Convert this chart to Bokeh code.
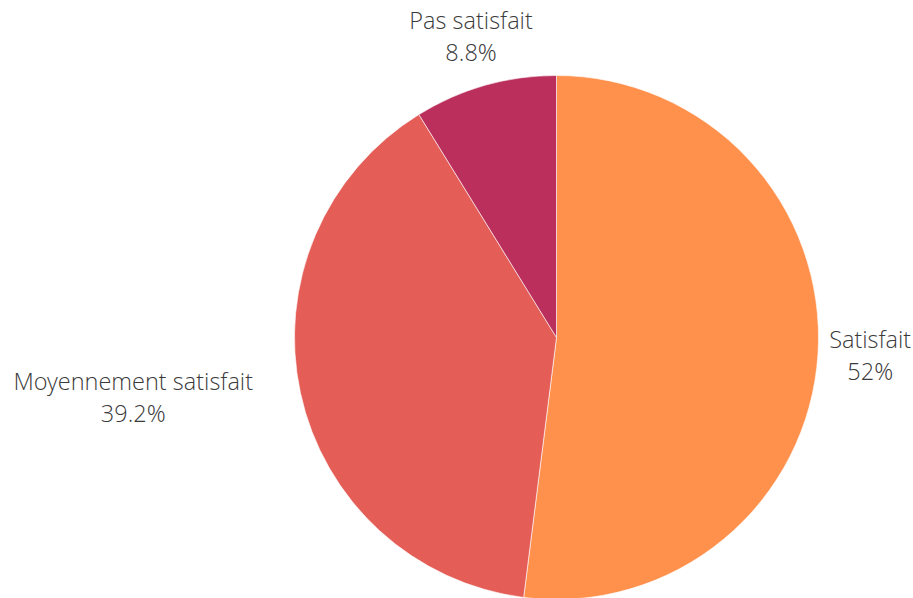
import numpy as np
from bokeh.plotting import figure
from bokeh.models import Range1d
from bokeh.core.properties import value
from bokeh.embed import file_html
from bokeh.resources import INLINE

# ---- data ----
categories = ["Satisfait", "Moyennement satisfait", "Pas satisfait"]
percentages = [52.0, 39.2, 8.8]
pct_labels = ["52%", "39.2%", "8.8%"]
colors = ["#FF914D", "#E45D57", "#BB2F5C"]

# ---- layout (figure pixel coordinates, origin top-left) ----
W, H = 913, 598
CX, CY_TOP, R = 556, 337, 262
FONT_PX = 23.5
LINE_GAP = 32
FONT = "Open Sans Light"

# rough Open Sans Light glyph widths (em) for label width estimation
_cw = {"M": .85, "o": .56, "y": .47, "e": .53, "n": .57, "m": .87, "t": .33, " ": .26,
       "s": .44, "a": .52, "i": .23, "f": .31, "S": .52, "P": .56, "%": .78, ".": .25}


def text_w(s):
    return sum(_cw.get(ch, .55) for ch in s) * FONT_PX


p = figure(width=W, height=H, output_backend="svg", toolbar_location=None,
           x_range=Range1d(0, W), y_range=Range1d(0, H), min_border=0,
           background_fill_color="white", border_fill_color="white")
p.axis.visible = False
p.grid.visible = False
p.outline_line_color = None

frac = np.array(percentages) / sum(percentages)
ends = np.cumsum(frac)
starts = ends - frac
start_angle = np.pi / 2 - starts * 2 * np.pi
end_angle = np.pi / 2 - ends * 2 * np.pi

p.wedge(x=CX, y=H - CY_TOP, radius=R, start_angle=list(start_angle), end_angle=list(end_angle),
        direction="clock", fill_color=colors, line_color="white", line_width=1, line_alpha=0.6)

# ---- labels ----
name_x, name_y, pct_x, pct_y = [], [], [], []
for cat, pl, s0, f in zip(categories, pct_labels, starts, frac):
    th = (s0 + f / 2) * 2 * np.pi
    sn, cs = np.sin(th), np.cos(th)
    ax = CX + (R + 51) * sn
    ay = CY_TOP - (R + 20) * cs
    w = max(text_w(cat), text_w(pl))
    if sn > 0.5:
        bx = ax + w / 2
    elif sn < -0.5:
        bx = ax - w / 2
    else:
        bx = ax
    bx = min(max(bx, w / 2 + 2), W - 3 - w / 2)
    if cs > 0.5:
        by = ay - 30
    elif cs < -0.5:
        by = ay + 30
    else:
        by = ay
    name_x.append(bx); name_y.append(H - (by - LINE_GAP / 2))
    pct_x.append(bx); pct_y.append(H - (by + LINE_GAP / 2))

common = dict(text_font=value(FONT), text_font_size=f"{FONT_PX}px", text_color="#3a3a3a",
              text_align="center", text_baseline="middle")
p.text(x=name_x, y=name_y, text=categories, **common)
p.text(x=pct_x, y=pct_y, text=pct_labels, **common)

open("out.html", "w").write(file_html(p, INLINE))
